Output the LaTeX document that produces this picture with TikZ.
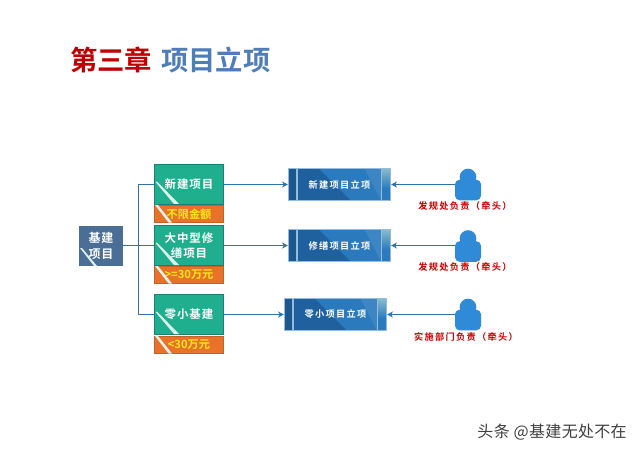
\documentclass[tikz,border=0pt]{standalone}
\usepackage{fontspec}
\usetikzlibrary{arrows.meta,calc}
\newfontfamily\cjk{Noto Sans CJK SC}
\newfontfamily\cjkwm[LetterSpace=2]{Noto Sans CJK SC}
\newfontfamily\cjkb{Noto Sans CJK SC Bold}
\newfontfamily\cjksp[LetterSpace=8]{Noto Sans CJK SC Bold}
\newfontfamily\cjkbsp[LetterSpace=14]{Noto Sans CJK SC Bold}
\definecolor{tealbox}{HTML}{1FAE8E}
\definecolor{tealedge}{HTML}{1B7F78}
\definecolor{orangebox}{HTML}{E8722A}
\definecolor{slatebox}{HTML}{4A6E96}
\definecolor{linkblue}{HTML}{2F72A8}
\definecolor{projblue}{HTML}{2A7ABD}
\definecolor{projdark}{HTML}{1F619E}
\definecolor{personblue}{HTML}{2F8AD8}
\definecolor{titlered}{HTML}{C00000}
\definecolor{titleblue}{HTML}{4F7DB8}
\definecolor{yellowtxt}{HTML}{FFE81A}
\definecolor{stripe}{HTML}{DDF1EA}
\tikzset{
  x=0.75pt,y=-0.75pt,
  title/.style={inner sep=0pt,font=\cjkb\fontsize{20.5pt}{22pt}\selectfont},
  greenbox/.style={draw=tealedge,line width=0.7pt,fill=tealbox,minimum width=52pt,minimum height=29.5pt,inner sep=0pt,
    align=center,text=white,font=\cjksp\fontsize{8.6pt}{11.5pt}\selectfont},
  orangelabel/.style={draw=orangebox!85!black,line width=0.4pt,fill=orangebox,minimum width=52pt,minimum height=13pt,inner sep=0pt,
    text=yellowtxt,font=\cjkb\fontsize{8.4pt}{10pt}\selectfont},
  rootbox/.style={fill=slatebox,minimum width=33pt,minimum height=30pt,inner sep=0pt,align=center,text=white,
    font=\cjksp\fontsize{9pt}{12pt}\selectfont},
  projbox/.style={draw=white!50!projblue,line width=0.8pt,minimum width=76.5pt,minimum height=24pt,inner sep=0pt,
    fill=projblue,text=white,font=\cjkbsp\fontsize{6.9pt}{8pt}\selectfont,
    path picture={
      \coordinate (pl) at (path picture bounding box.south west);
      \coordinate (pr) at (path picture bounding box.north east);
      \fill[projdark] ($(pl)+(9,0)$) -- ($(pl)+(62,0)$) -- ($(pl)+(29,-33)$) -- ($(pl)+(9,-33)$) -- cycle;
      \fill[projblue!85!white,opacity=.6] ($(pr)+(-9,0)$) -- ($(pr)+(-26,0)$) -- ($(pr)+(-9,33)$) -- cycle;
      \fill[projdark!90!black] (pl) rectangle ($(pl)+(7.5,-33)$);
      \fill[white!50!projblue] ($(pl)+(7.5,0)$) rectangle ($(pl)+(9,-33)$);
      \fill[white!50!projblue] ($(pr)+(-9.5,0)$) rectangle ($(pr)+(-8.5,33)$);
      \shade[top color=teal!35!white!75!projblue,bottom color=projblue] ($(pr)+(-8.5,0)$) rectangle ($(pr)+(0,20)$);
    }},
  link/.style={draw=linkblue,line width=1pt},
  linkarrow/.style={link,-{Stealth[length=4.5pt,width=4.5pt]}},
  owner/.style={inner sep=0pt,text=red!80!black,font=\cjkbsp\fontsize{6.9pt}{8pt}\selectfont},
  personhead/.style={circle,fill=personblue,minimum size=12.5pt,inner sep=0pt},
  personbody/.style={rounded corners=3.5pt,fill=personblue,minimum width=19.5pt,minimum height=15.5pt,inner sep=0pt},
  wmark/.style={inner sep=0pt,text=black!75,font=\cjkwm\fontsize{12pt}{13pt}\selectfont},
  gstripe/.style={fill=stripe},
}
\begin{document}
\begin{tikzpicture}
\useasboundingbox (0,0) rectangle (640,453);
\fill[white] (0,0) rectangle (640,453);

% title
\node[title,text=titlered,anchor=west] (t1) at (70,60) {第三章};
\node[title,text=titleblue,anchor=west] (t2) at (161,60) {项目立项};

% connectors under boxes
\coordinate (trunkup) at (138.5,184.5);
\coordinate (trunkmid) at (138.5,245.5);
\coordinate (trunkdn) at (138.5,314.5);

% root
\node[rootbox] (root) at (101,245.5) {基建\\项目};
\fill[gstripe] (80,248) -- (82,248) -- (97,266) -- (94,266) -- cycle;

% categories
\node[greenbox] (g1) at (189,184.5) {新建项目};
\node[orangelabel] (o1) at (189,214) {不限金额};
\node[greenbox] (g2) at (189,245.5) {大中型修\\缮项目};
\node[orangelabel] (o2) at (189,275) {>=30万元};
\node[greenbox] (g3) at (189,314.5) {零小基建};
\node[orangelabel] (o3) at (189,344.5) {<30万元};

\foreach \ya in {165,226,295}{
  \fill[gstripe] (155.5,\ya+17) -- (157,\ya+16.5) -- (179,\ya+39) -- (174,\ya+39) -- cycle;
}
\foreach \ya in {205,266,336}{
  \fill[gstripe] (155,\ya) -- (158,\ya) -- (172,\ya+17.5) -- (168.5,\ya+17.5) -- cycle;
}

% project boxes
\node[projbox] (p1) at (339.5,184.5) {新建项目立项};
\node[projbox] (p2) at (339.5,245.5) {修缮项目立项};
\node[projbox] (p3) at (335.5,314.5) {零小项目立项};

% persons
\foreach \n/\ya in {1/168,2/229.5,3/298}{
  \node[personbody] (b\n) at (468,\ya+22) {};
  \node[personhead] (h\n) at (468,\ya+9) {};
  \fill[personblue] (461,\ya+12) rectangle (475,\ya+18);
}
\node[owner] (l1) at (465,206) {发规处负责（牵头）};
\node[owner] (l2) at (465,267) {发规处负责（牵头）};
\node[owner] (l3) at (466,337) {实施部门负责（牵头）};

% connectors
\draw[link] (root.east) -- (trunkmid);
\draw[link] (g1.west) -- (trunkup) -- (trunkdn) -- (g3.west);
\draw[link] (trunkmid) -- (g2.west);
\draw[linkarrow] (g1.east) -- (p1.west);
\draw[linkarrow] (g2.east) -- (p2.west);
\draw[linkarrow] (g3.east) -- (p3.west);
\draw[linkarrow] (b1.west |- p1.east) -- (p1.east);
\draw[linkarrow] (b2.west |- p2.east) -- (p2.east);
\draw[linkarrow] (b3.west |- p3.east) -- (p3.east);

% watermark
\node[wmark,anchor=east] (wm) at (627,432) {头条 @基建无处不在};
\end{tikzpicture}
\end{document}
